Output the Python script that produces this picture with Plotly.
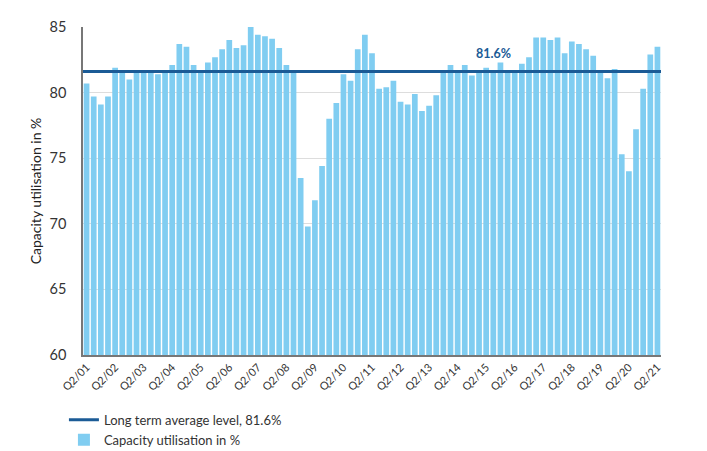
import plotly.graph_objects as go

categories = [
    "Q2/01", "Q3/01", "Q4/01", "Q1/02", "Q2/02", "Q3/02", "Q4/02", "Q1/03",
    "Q2/03", "Q3/03", "Q4/03", "Q1/04", "Q2/04", "Q3/04", "Q4/04", "Q1/05",
    "Q2/05", "Q3/05", "Q4/05", "Q1/06", "Q2/06", "Q3/06", "Q4/06", "Q1/07",
    "Q2/07", "Q3/07", "Q4/07", "Q1/08", "Q2/08", "Q3/08", "Q4/08", "Q1/09",
    "Q2/09", "Q3/09", "Q4/09", "Q1/10", "Q2/10", "Q3/10", "Q4/10", "Q1/11",
    "Q2/11", "Q3/11", "Q4/11", "Q1/12", "Q2/12", "Q3/12", "Q4/12", "Q1/13",
    "Q2/13", "Q3/13", "Q4/13", "Q1/14", "Q2/14", "Q3/14", "Q4/14", "Q1/15",
    "Q2/15", "Q3/15", "Q4/15", "Q1/16", "Q2/16", "Q3/16", "Q4/16", "Q1/17",
    "Q2/17", "Q3/17", "Q4/17", "Q1/18", "Q2/18", "Q3/18", "Q4/18", "Q1/19",
    "Q2/19", "Q3/19", "Q4/19", "Q1/20", "Q2/20", "Q3/20", "Q4/20", "Q1/21",
    "Q2/21",
]

utilisation = [
    80.7, 79.7, 79.1, 79.7, 81.9, 81.5, 81.0, 81.7,
    81.6, 81.6, 81.4, 81.6, 82.1, 83.7, 83.5, 82.1,
    81.6, 82.3, 82.7, 83.3, 84.0, 83.4, 83.6, 85.0,
    84.4, 84.3, 84.1, 83.4, 82.1, 81.5, 73.5, 69.8,
    71.8, 74.4, 78.0, 79.2, 81.4, 80.9, 83.3, 84.4,
    83.0, 80.3, 80.4, 80.9, 79.3, 79.1, 79.9, 78.6,
    79.0, 79.8, 81.6, 82.1, 81.6, 82.1, 81.3, 81.6,
    81.9, 81.6, 82.3, 81.6, 81.6, 82.2, 82.7, 84.2,
    84.2, 84.0, 84.2, 83.0, 83.9, 83.7, 83.3, 82.8,
    81.5, 81.1, 81.8, 75.3, 74.0, 77.2, 80.3, 82.9,
    83.5,
]

long_term_average = 81.6

tick_labels = [
    "Q2/01", "Q2/02", "Q2/03", "Q2/04", "Q2/05", "Q2/06", "Q2/07",
    "Q2/08", "Q2/09", "Q2/10", "Q2/11", "Q2/12", "Q2/13", "Q2/14",
    "Q2/15", "Q2/16", "Q2/17", "Q2/18", "Q2/19", "Q2/20", "Q2/21",
]

y_ticks = [60, 65, 70, 75, 80, 85]

BAR = "#80cdf1"
LINE = "#1b5b96"
FONT = "Lato"

fig = go.Figure()
fig.add_trace(go.Bar(
    x=categories, y=utilisation, name="Capacity utilisation in %",
    marker=dict(color=BAR, line=dict(width=0)),
    legendrank=2,
))
fig.add_trace(go.Scatter(
    x=[0, 1], y=[long_term_average, long_term_average], xaxis="x2",
    mode="lines", line=dict(color=LINE, width=3),
    name="Long term average level, 81.6%", legendrank=1,
))

fig.add_annotation(
    x="Q3/15", y=long_term_average, text="<b>81.6%</b>", showarrow=False,
    yanchor="bottom", yshift=9, font=dict(family=FONT, size=12.5, color=LINE),
)

fig.update_layout(
    width=707, height=490,
    margin=dict(l=75, r=54, t=19, b=143),
    paper_bgcolor="white", plot_bgcolor="white",
    font=dict(family=FONT, color="#333333"),
    bargap=0.2,
    showlegend=True,
    legend=dict(
        x=-0.033, y=-0.152, xanchor="left", yanchor="top",
        font=dict(family=FONT, size=13, color="#333333"),
        bgcolor="rgba(0,0,0,0)", itemwidth=30, tracegroupgap=0,
    ),
    xaxis=dict(
        type="category", tickmode="array", tickvals=tick_labels, ticktext=tick_labels,
        tickangle=-45, tickfont=dict(family=FONT, size=11, color="#333333"),
        showgrid=False, showline=True, linecolor="#777777", linewidth=1.5,
        ticks="", range=[-0.5, len(categories) - 0.5], automargin=False,
    ),
    xaxis2=dict(overlaying="x", range=[0, 1], visible=False, fixedrange=True),
    yaxis=dict(
        range=[60, 85], tickvals=y_ticks, showgrid=True, gridcolor="#dddddd",
        gridwidth=1, showline=True, linecolor="#777777", linewidth=1.5,
        ticks="outside", ticklen=12, tickcolor="rgba(0,0,0,0)",
        tickfont=dict(family=FONT, size=14.5, color="#333333"),
        title=dict(text="Capacity utilisation in %", standoff=5,
                   font=dict(family=FONT, size=14, color="#222222")),
        zeroline=False, automargin=False,
    ),
)

fig.write_html("out.html", config={"displayModeBar": False})
